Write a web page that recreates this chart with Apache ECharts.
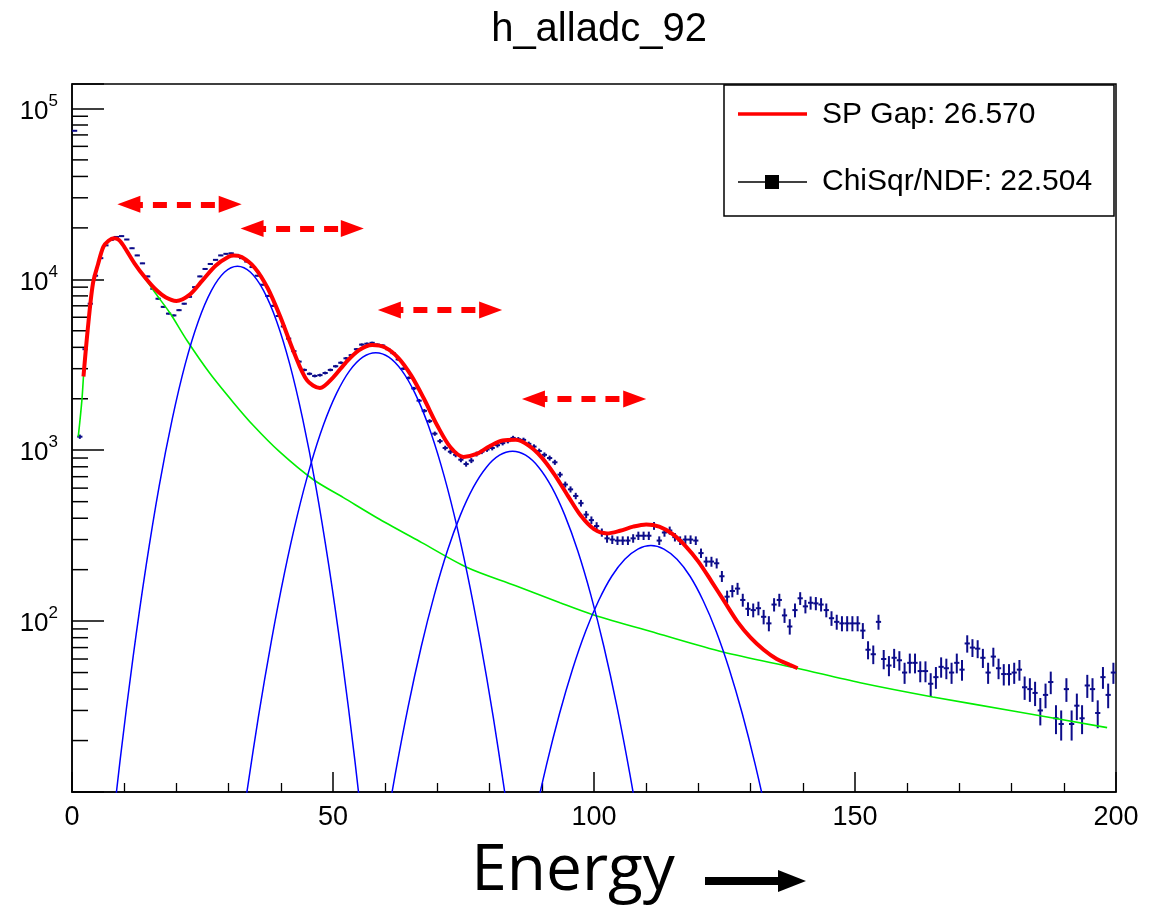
<!DOCTYPE html>
<html>
<head>
<meta charset="utf-8">
<script src="https://cdn.jsdelivr.net/npm/echarts@6/dist/echarts.min.js"></script>
<style>
html,body{margin:0;padding:0;background:#fff;}
#chart{width:1162px;height:910px;}
</style>
</head>
<body>
<div id="chart"></div>
<script>
// ---------- data ----------
const titleText = 'h_alladc_92';
const xTicks = [0, 50, 100, 150, 200];
const yDecades = [100, 1000, 10000, 100000];
const yMinorTicks = [20,30,40,50,60,70,80,90,200,300,400,500,600,700,800,900,
  2000,3000,4000,5000,6000,7000,8000,9000,20000,30000,40000,50000,60000,70000,80000,90000];

// histogram counts, bins of width 1 from 0 to 200
const counts = [
  74000,1200,3900,7200,10500,13300,15800,17000,17700,17900,
  17100,15200,13800,12400,10400,8800,7700,6900,6300,6150,
  6600,7200,7900,9000,10400,11500,12300,13000,13800,14100,
  14200,13900,13300,12700,11800,10500,9300,8000,7000,6100,
  5300,4500,3800,3300,2950,2800,2720,2750,2830,2950,
  3100,3250,3450,3600,3900,4150,4200,4250,4150,4100,
  3900,3700,3400,3000,2650,2300,1950,1700,1480,1250,
  1130,1030,980,940,880,830,870,950,980,1010,
  1030,1070,1100,1130,1180,1160,1150,1090,1050,990,
  940,900,850,720,630,590,540,490,420,390,
  360,330,305,300,296,296,296,305,316,316,
  316,361,296,330,339,310,296,300,300,296,
  250,223,223,218,183,139,150,155,133,118,
  116,119,106,97,125,133,108,93,116,136,
  122,128,127,125,116,104,99,97,97,97,
  97,88,68,64,99,60,55,61,59,50,
  57,57,51,51,43,47,54,53,50,57,
  52,74,70,69,61,50,62,53,49,49,
  50,52,41,40,38,30,37,44,27,25,
  40,25,32,27,42,40,29,47,37,50
];

// total fit (red)
const fitTotal = [[2.2,2700],[3,5040],[4,9400],[5,12300],[6,15500],[7,16800],[8,17400],[9,17000],[10,15500],
  [12,12370],[14,10240],[16,8745],[18,7830],[20,7480],[22.5,8110],[25,9860],[27.5,12020],[30,13550],[31,13770],
  [32.5,13500],[35,11700],[37.5,8870],[40,5940],[42.5,3750],[45,2570],[47.5,2310],[50,2660],[52.5,3270],
  [55,3850],[57.5,4130],[60,3990],[62.5,3470],[65,2730],[67.5,1980],[70,1390],[72.5,1040],[75,914],
  [77.5,951],[80,1056],[82.5,1140],[85,1150],[87.5,1063],[90,905],[92.5,715],[95,541],[97.5,413],
  [100,345],[102.5,326],[105,338],[107.5,357],[110,368],[112.5,357],[115,324],[117.5,276],[120,223],
  [122.5,171],[125,130],[127.5,99],[130,80],[132.5,68],[135,60],[137.5,55.5],[139,53]];

// background (green)
const background = [[1.2,1200],[1.9,1970],[2.5,3700],[3.2,5700],[4.1,10000],[5,12300],[6,15500],[7,16800],
  [7.9,17400],[9,17000],[10.5,14800],[12,12300],[13.7,10400],[16,8280],[18.8,6330],[22,4400],[26.4,2820],
  [30.9,1905],[34.7,1400],[39.8,977],[46.2,674],[52,528],[59,393],[67,288],[75.7,206],[85,161],[93.5,128],
  [99.8,109],[112,85],[124.7,66],[138.9,53],[151,43.6],[164.9,36],[180,29.9],[198.3,23.8]];

// single-photon peaks (blue)
const peak1 = [[6.7,3.18],[9.2,15.2],[11.7,61.5],[14.2,211],[16.7,617],[19.2,1520],[21.7,3200],[24.2,5690],
  [26.7,8590],[29.2,10990],[31.7,11940],[34.2,10990],[36.7,8590],[39.2,5690],[41.7,3200],[44.2,1520],
  [46.7,617],[49.2,211],[51.7,61.5],[54.2,15.2],[56.7,3.18]];
const peak2 = [[33.2,8.65],[35.7,27.4],[38.2,76.7],[40.7,191],[43.2,420],[45.7,818],[48.2,1413],[50.7,2158],
  [53.2,2924],[55.7,3508],[58.2,3724],[60.7,3508],[63.2,2924],[65.7,2158],[68.2,1413],[70.7,818],[73.2,420],
  [75.7,191],[78.2,76.7],[80.7,27.4],[83.2,8.65]];
const peak3 = [[59.4,4.55],[61.9,12.6],[64.4,31.6],[66.9,70.8],[69.4,142],[71.9,257],[74.4,417],[76.9,608],
  [79.4,796],[81.9,935],[84.4,986],[86.9,935],[89.4,796],[91.9,608],[94.4,417],[96.9,257],[99.4,142],
  [101.9,70.8],[104.4,31.6],[106.9,12.6],[109.4,4.55]];
const peak4 = [[85.9,2.73],[88.4,6.56],[90.9,14.4],[93.4,28.8],[95.9,52.5],[98.4,87.3],[100.9,132],[103.4,183],
  [105.9,230],[108.4,264],[110.9,277],[113.4,264],[115.9,230],[118.4,183],[120.9,132],[123.4,87.3],
  [125.9,52.5],[128.4,28.8],[130.9,14.4],[133.4,6.56],[135.9,2.73]];

// peak-spacing annotations (data coordinates: xStart, xEnd, y)
const gapArrows = [[10.9,30.3,27460],[34.5,53.7,19860],[60.8,80.2,6615],[88.4,107.8,1995]];

const legendLabels = ['SP Gap: 26.570', 'ChiSqr/NDF: 22.504'];
const axisTitle = 'Energy';

// ---------- chart ----------
const FONT = '"Liberation Sans", Arial, Helvetica, sans-serif';
const DATA_COLOR = '#0c0c8a';
const hist = counts.map((v, i) => [i + 0.5, v]);

const chart = echarts.init(document.getElementById('chart'), null, {renderer: 'canvas'});

const option = {
  animation: false,
  backgroundColor: '#ffffff',
  title: {
    text: titleText, left: 594, top: 5, textAlign: 'center',
    textStyle: {fontFamily: FONT, fontSize: 40, fontWeight: 'normal', color: '#000'}
  },
  grid: {left: 72, right: 46, top: 84, bottom: 118, show: true, borderColor: '#000', borderWidth: 1.5, backgroundColor: 'transparent'},
  xAxis: {
    type: 'value', min: xTicks[0], max: xTicks[xTicks.length - 1], interval: 50,
    axisLine: {onZero: false, lineStyle: {color: '#000', width: 1.5}},
    axisTick: {inside: true, length: 20, lineStyle: {color: '#000', width: 1.5}},
    minorTick: {show: true, splitNumber: 5, length: 9, lineStyle: {color: '#000', width: 1.3}},
    splitLine: {show: false},
    axisLabel: {fontFamily: FONT, fontSize: 27, color: '#000', margin: 12}
  },
  yAxis: {
    type: 'log', logBase: 10, min: 10, max: 139000,
    axisLine: {lineStyle: {color: '#000', width: 1.5}},
    axisTick: {inside: true, length: 32, lineStyle: {color: '#000', width: 1.5}},
    splitLine: {show: false},
    axisLabel: {
      margin: 14,
      formatter: function (v) {
        const e = Math.round(Math.log10(v));
        if (yDecades.indexOf(Math.round(v)) < 0) return '';
        return '{b|10}{s|' + e + '}';
      },
      rich: {
        b: {fontFamily: FONT, fontSize: 26, color: '#000', padding: [6, 0, 0, 0]},
        s: {fontFamily: FONT, fontSize: 17, color: '#000', verticalAlign: 'top'}
      }
    }
  },
  graphic: [
    {type: 'rect', shape: {x: 724, y: 85, width: 390, height: 131}, style: {fill: '#fff', stroke: '#000', lineWidth: 1.5}, z: 10},
    {type: 'line', shape: {x1: 738, y1: 114, x2: 807, y2: 114}, style: {stroke: '#ff0000', lineWidth: 3.5}, z: 11},
    {type: 'text', x: 822, y: 115, style: {text: legendLabels[0], font: '30px ' + FONT, fill: '#000', verticalAlign: 'middle', align: 'left'}, z: 11},
    {type: 'line', shape: {x1: 738, y1: 182, x2: 807, y2: 182}, style: {stroke: '#000', lineWidth: 1.5}, z: 11},
    {type: 'rect', shape: {x: 765, y: 175, width: 14, height: 14}, style: {fill: '#000'}, z: 11},
    {type: 'text', x: 822, y: 182, style: {text: legendLabels[1], font: '30px ' + FONT, fill: '#000', verticalAlign: 'middle', align: 'left'}, z: 11},
    {type: 'text', x: 573, y: 872, style: {text: axisTitle, font: '64px "Open Sans", "Noto Sans", sans-serif', fill: '#000', align: 'center', verticalAlign: 'middle'}},
    {type: 'rect', shape: {x: 705, y: 877, width: 76, height: 8}, style: {fill: '#000'}},
    {type: 'polygon', shape: {points: [[778, 870], [806, 881], [778, 892]]}, style: {fill: '#000'}}
  ],
  series: [
    {
      name: 'minor ticks', type: 'custom', silent: true, clip: false, z: 3,
      data: yMinorTicks.map(v => [0, v]),
      renderItem: function (params, api) {
        const p = api.coord([0, api.value(1)]);
        return {type: 'line', shape: {x1: p[0], y1: p[1], x2: p[0] + 16, y2: p[1]}, style: {stroke: '#000', lineWidth: 1.5}};
      }
    },
    {
      name: 'data', type: 'custom', clip: true, z: 4,
      data: hist,
      renderItem: function (params, api) {
        const x = api.value(0), v = api.value(1);
        const e = Math.sqrt(v);
        const c = api.coord([x, v]);
        const l = api.coord([x - 0.5, v]);
        const r = api.coord([x + 0.5, v]);
        const t = api.coord([x, v + e]);
        const b = api.coord([x, Math.max(v - e, 1)]);
        return {type: 'group', children: [
          {type: 'line', shape: {x1: l[0], y1: c[1], x2: r[0], y2: c[1]}, style: {stroke: DATA_COLOR, lineWidth: 2}},
          {type: 'line', shape: {x1: c[0], y1: t[1], x2: c[0], y2: b[1]}, style: {stroke: DATA_COLOR, lineWidth: 2}}
        ]};
      }
    },
    {name: 'bg', type: 'line', data: background, showSymbol: false, smooth: 0.3, clip: true, z: 5,
      lineStyle: {color: '#00ee00', width: 1.6}},
    {name: 'p1', type: 'line', data: peak1, showSymbol: false, smooth: 0.35, clip: true, z: 6, lineStyle: {color: '#0000ff', width: 1.5}},
    {name: 'p2', type: 'line', data: peak2, showSymbol: false, smooth: 0.35, clip: true, z: 6, lineStyle: {color: '#0000ff', width: 1.5}},
    {name: 'p3', type: 'line', data: peak3, showSymbol: false, smooth: 0.35, clip: true, z: 6, lineStyle: {color: '#0000ff', width: 1.5}},
    {name: 'p4', type: 'line', data: peak4, showSymbol: false, smooth: 0.35, clip: true, z: 6, lineStyle: {color: '#0000ff', width: 1.5}},
    {name: 'fit', type: 'line', data: fitTotal, showSymbol: false, smooth: 0.3, clip: true, z: 7,
      lineStyle: {color: '#ff0000', width: 4}},
    {
      name: 'arrows', type: 'line', data: [], z: 8,
      markLine: {
        silent: true, animation: false,
        symbol: ['triangle', 'triangle'], symbolSize: [17, 23],
        label: {show: false},
        lineStyle: {color: '#ff0000', width: 6, type: [14, 10], opacity: 1},
        itemStyle: {color: '#ff0000'},
        emphasis: {disabled: true},
        data: gapArrows.map(a => [{coord: [a[0], a[2]]}, {coord: [a[1], a[2]]}])
      }
    }
  ]
};
chart.setOption(option);
</script>
</body>
</html>
